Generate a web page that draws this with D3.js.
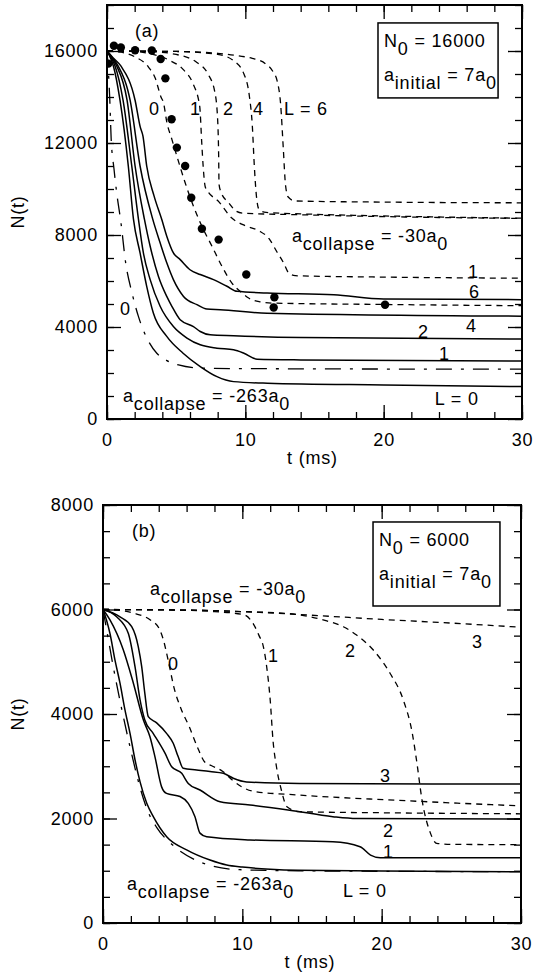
<!DOCTYPE html>
<html>
<head>
<meta charset="utf-8">
<script src="https://cdn.jsdelivr.net/npm/d3@7"></script>
<style>
  body { margin: 0; background: #fff; }
  svg text { font-family: "Liberation Sans", Arial, Helvetica, sans-serif; font-size: 18px; fill: #000; letter-spacing: 0.8px; white-space: pre; }
</style>
</head>
<body>
<svg id="chart" width="545" height="975"></svg>
<script>
// ---- panel (a) data : N0 = 16000, [t (ms), N] ----
var a_solid_L0 = [[0,16000],[0.25,15700],[0.46,15350],[0.94,13860],[1.54,11000],[1.91,8700],[2.39,7220],[2.87,5770],[3.35,4610],[4.32,3590],[5.5,2860],[6.74,2280],[7.95,1840],[9.15,1625],[11.6,1555],[20,1480],[30,1410]]
var a_solid_L1 = [[0,16000],[0.3,15700],[0.58,15350],[1.16,13860],[1.79,11000],[2.27,8700],[2.63,7220],[3.12,6060],[3.84,4900],[4.8,4020],[5.78,3520],[6.74,3225],[7.95,3080],[9.15,3010],[9.9,2860],[10.85,2600],[14,2570],[30,2520]]
var a_solid_L2 = [[0,16000],[0.35,15700],[0.7,15350],[1.45,13860],[2.03,11000],[2.7,8700],[3.12,7510],[3.72,6200],[4.32,5330],[4.69,4900],[5.29,4315],[6.25,4020],[6.74,3805],[7.46,3660],[9.15,3620],[14,3545],[30,3475]]
var a_solid_L4 = [[0,16000],[0.4,15700],[0.8,15350],[1.67,13860],[2.39,11000],[3.3,8700],[3.84,7660],[4.32,6790],[4.8,6060],[5.53,5330],[6.5,4970],[7.22,4780],[8.19,4750],[11.57,4600],[30,4470]]
var a_solid_L6 = [[0,16000],[0.45,15700],[1.0,15350],[2.03,13860],[2.4,12700],[2.6,12300],[2.87,11000],[3.4,9700],[3.96,8670],[4.32,7950],[4.8,7220],[5.29,6930],[6.0,6490],[6.74,6280],[7.7,6060],[8.67,5770],[9.4,5550],[11.57,5480],[16.4,5400],[20,5215],[30,5190]]
var a_dashdot_L0 = [[0,16000],[0.1,15100],[0.2,13900],[0.3,12200],[0.5,10900],[0.7,9840],[1.01,8530],[1.35,6790],[1.8,5500],[2.27,4460],[2.9,3500],[3.6,2860],[4.3,2550],[5.17,2350],[6.86,2210],[10,2190],[30,2165]]
var a_dash_L0 = [[0,16000],[1,15950],[2,15750],[3,15300],[3.5,14800],[3.9,14000],[4.08,13760],[4.33,12890],[4.69,12160],[5.05,11430],[5.65,10270],[6.25,9250],[6.86,8380],[7.59,7510],[8.31,6640],[9.03,5910],[9.76,5480],[10.24,5260],[11,5100],[12,5040],[20,4980],[30,4925]]
var a_dash_L1 = [[0,16000],[2,15980],[3,15900],[4.5,15600],[5.5,15200],[6.2,14600],[6.7,13600],[6.85,12000],[6.95,11000],[7.1,10100],[7.35,9840],[8,9500],[9,8750],[10,8400],[11,8180],[11.7,7850],[12.3,7250],[12.8,6750],[13.1,6380],[13.6,6230],[20,6170],[30,6120]]
var a_dash_L2 = [[0,16000],[3,15980],[5,15850],[6.5,15500],[7.3,15000],[7.8,14200],[8.0,13000],[8.07,11500],[8.1,10200],[8.25,9850],[8.8,9400],[9.3,9050],[9.8,8950],[14,8880],[20,8800],[30,8720]]
var a_dash_L4 = [[0,16000],[5,15980],[8,15850],[9.1,15600],[9.9,15000],[10.3,14000],[10.5,12800],[10.65,11000],[10.8,9700],[11.0,9100],[11.5,8980],[14,8920],[20,8830],[30,8730]]
var a_dash_L6 = [[0,16000],[5,15980],[8,15900],[9.5,15790],[10.5,15680],[11.45,15450],[12,15100],[12.3,14700],[12.55,13700],[12.75,11700],[12.9,10200],[13.1,9650],[13.6,9480],[20,9430],[30,9400]]
var a_exp = [[0.1,15450],[0.5,16230],[1.0,16150],[2.03,16030],[3.24,16020],[3.88,15650],[4.22,14810],[4.67,13030],[5.05,11800],[5.65,11000],[6.09,9620],[6.86,8270],[8.07,7800],[10.07,6280],[12.1,5290],[12.05,4850],[20.1,4970]]

// ---- panel (b) data : N0 = 6000 ----
var b_solid_L0 = [[0,6000],[0.25,5800],[0.5,5540],[0.86,5030],[1.22,4590],[1.58,4075],[1.94,3630],[2.3,3120],[2.66,2700],[3.14,2290],[3.61,2035],[4.57,1650],[6.0,1400],[7.68,1205],[8.88,1110],[10,1070],[12,1030],[14,1010],[20,995],[30,982]]
var b_solid_L1 = [[0,6000],[0.5,5800],[1.46,5225],[2.18,4590],[2.9,3885],[3.37,3565],[3.73,3180],[4.2,2610],[4.56,2480],[5.53,2420],[6.12,2290],[6.6,2035],[6.96,1720],[7.44,1650],[10.55,1590],[16.5,1555],[18.45,1460],[19.2,1300],[19.9,1250],[30,1250]]
var b_solid_L2 = [[0,6000],[0.98,5860],[1.82,5540],[2.3,4900],[2.66,4270],[3.0,3885],[3.6,3630],[4.45,3250],[4.93,2990],[5.65,2865],[6.12,2670],[6.96,2545],[8.4,2320],[10.55,2260],[13.4,2160],[16.5,2035],[18.2,2000],[30,1990]]
var b_solid_L3 = [[0,6000],[1.22,5860],[2.06,5670],[2.53,5290],[2.78,4900],[3.0,4400],[3.25,3950],[3.85,3830],[4.56,3630],[5.04,3440],[5.4,3180],[5.76,2960],[6.72,2930],[7.68,2900],[8.64,2865],[9.35,2770],[10.3,2700],[14.1,2670],[30,2660]]
var b_dashdot_L0 = [[0,6000],[0.27,5600],[0.74,4900],[1.34,4100],[2.0,3300],[2.6,2650],[3.2,2150],[3.85,1830],[5.05,1480],[6.6,1210],[7.7,1100],[9.8,1020],[14,1000],[20,990],[30,982]]
var b_dash_L0 = [[0,6000],[1,5990],[2.2,5930],[3.4,5800],[4.0,5650],[4.3,5450],[4.7,5000],[5.1,4500],[5.6,4100],[6.2,3750],[6.8,3350],[7.3,3080],[7.8,3010],[8.6,2900],[9.3,2730],[10,2600],[10.8,2520],[14,2450],[21,2350],[30,2240]]
var b_dash_L1 = [[0,6000],[5,5990],[8,5960],[10.1,5900],[10.8,5720],[11.2,5500],[11.5,5300],[11.75,4900],[12,4270],[12.2,3500],[12.45,2990],[12.8,2545],[13.2,2225],[14.1,2130],[20,2110],[30,2090]]
var b_dash_L2 = [[0,6000],[5,5995],[10,5960],[13.4,5920],[15.8,5800],[17.25,5670],[18.2,5510],[19.4,5225],[20.6,4780],[21.55,4270],[22.2,3630],[22.5,3120],[22.9,2350],[23.5,1720],[23.95,1525],[25,1505],[30,1500]]
var b_dash_L3 = [[0,6000],[5,5990],[10,5960],[15,5890],[20,5810],[25,5740],[30,5660]]

// axis ticks
var xMinorTicks = d3.range(0, 31, 2)
var xMajorTicks = [0, 10, 20, 30]
var a_yMinorTicks = d3.range(0, 18001, 1000)
var a_yMajorTicks = [0, 4000, 8000, 12000, 16000]
var b_yMinorTicks = d3.range(0, 8001, 500)
var b_yMajorTicks = [0, 2000, 4000, 6000, 8000]

var svg = d3.select('#chart')

// text with subscripts: parts = [[string, isSub], ...]
function subText(g, x, y, parts) {
  var t = g.append('text').attr('x', x).attr('y', y)
  var down = false
  parts.forEach(function (p) {
    var dy = 0
    if (p[1] && !down) { dy = 8; down = true }
    else if (!p[1] && down) { dy = -8; down = false }
    t.append('tspan').attr('dy', dy).text(p[0])
  })
  return t
}

function drawPanel(cfg) {
  var g = svg.append('g')

  var x = d3.scaleLinear().domain([0, 30]).range([cfg.left, cfg.right])
  var y = d3.scaleLinear().domain([0, cfg.ymax]).range([cfg.bottom, cfg.top])

  g.append('clipPath').attr('id', cfg.id + 'clip')
    .append('rect')
    .attr('x', cfg.left).attr('y', cfg.top)
    .attr('width', cfg.right - cfg.left).attr('height', cfg.bottom - cfg.top)

  var line = d3.line()
    .x(function (d) { return x(d[0]) })
    .y(function (d) { return y(d[1]) })
    .curve(d3.curveMonotoneX)

  var curves = g.append('g').attr('clip-path', 'url(#' + cfg.id + 'clip)')

  cfg.dashed.forEach(function (s) {
    curves.append('path').datum(s).attr('d', line)
      .attr('fill', 'none').attr('stroke', '#000').attr('stroke-width', 1.3)
      .attr('stroke-dasharray', '6,5')
  })
  cfg.dashdot.forEach(function (s) {
    curves.append('path').datum(s).attr('d', line)
      .attr('fill', 'none').attr('stroke', '#000').attr('stroke-width', 1.3)
      .attr('stroke-dasharray', '16,9,3,9')
  })
  cfg.solid.forEach(function (s) {
    curves.append('path').datum(s).attr('d', line)
      .attr('fill', 'none').attr('stroke', '#000').attr('stroke-width', 1.5)
  })
  if (cfg.dots) {
    curves.selectAll('circle').data(cfg.dots).enter().append('circle')
      .attr('cx', function (d) { return x(d[0]) })
      .attr('cy', function (d) { return y(d[1]) })
      .attr('r', 4.2).attr('fill', '#000')
  }

  // ticks on all four sides, pointing inward
  function tickStyle(sel) {
    sel.select('.domain').remove()
    sel.selectAll('line').attr('stroke', '#000').attr('stroke-width', 1.3)
    sel.selectAll('text').style('font-size', '18px').attr('font-family', null)
  }
  g.append('g').attr('transform', 'translate(0,' + cfg.bottom + ')')
    .call(d3.axisBottom(x).tickValues(xMinorTicks).tickSize(-7).tickFormat('')).call(tickStyle)
  g.append('g').attr('transform', 'translate(0,' + cfg.bottom + ')')
    .call(d3.axisBottom(x).tickValues(xMajorTicks).tickSize(-14).tickPadding(14).tickFormat(d3.format('d'))).call(tickStyle)
  g.append('g').attr('transform', 'translate(0,' + cfg.top + ')')
    .call(d3.axisTop(x).tickValues(xMinorTicks).tickSize(-7).tickFormat('')).call(tickStyle)
  g.append('g').attr('transform', 'translate(0,' + cfg.top + ')')
    .call(d3.axisTop(x).tickValues(xMajorTicks).tickSize(-14).tickFormat('')).call(tickStyle)

  g.append('g').attr('transform', 'translate(' + cfg.left + ',0)')
    .call(d3.axisLeft(y).tickValues(cfg.yMinor).tickSize(-7).tickFormat('')).call(tickStyle)
  g.append('g').attr('transform', 'translate(' + cfg.left + ',0)')
    .call(d3.axisLeft(y).tickValues(cfg.yMajor).tickSize(-14).tickPadding(9).tickFormat(d3.format('d'))).call(tickStyle)
  g.append('g').attr('transform', 'translate(' + cfg.right + ',0)')
    .call(d3.axisRight(y).tickValues(cfg.yMinor).tickSize(-7).tickFormat('')).call(tickStyle)
  g.append('g').attr('transform', 'translate(' + cfg.right + ',0)')
    .call(d3.axisRight(y).tickValues(cfg.yMajor).tickSize(-14).tickFormat('')).call(tickStyle)

  g.append('rect')
    .attr('x', cfg.left).attr('y', cfg.top)
    .attr('width', cfg.right - cfg.left).attr('height', cfg.bottom - cfg.top)
    .attr('fill', 'none').attr('stroke', '#000').attr('stroke-width', 2)

  // axis titles
  g.append('text')
    .attr('x', (cfg.left + cfg.right) / 2 - 2).attr('y', cfg.bottom + 45)
    .attr('text-anchor', 'middle').text('t (ms)')
  g.append('text')
    .attr('transform', 'translate(' + 24 + ',' + (cfg.top + cfg.bottom) / 2 + ') rotate(-90)')
    .attr('text-anchor', 'middle').text('N(t)')

  // info box
  var b = cfg.box
  g.append('rect')
    .attr('x', x(b.t0)).attr('y', y(b.n0))
    .attr('width', x(b.t1) - x(b.t0)).attr('height', y(b.n1) - y(b.n0))
    .attr('fill', '#fff').attr('stroke', '#000').attr('stroke-width', 1.5)
  subText(g, x(b.t0) + 6, y(b.n0) + 24, [['N', false], ['0', true], [' = ' + cfg.N0, false]])
  subText(g, x(b.t0) + 6, y(b.n0) + 58, [['a', false], ['initial', true], [' = 7a', false], ['0', true]])

  // curve labels
  cfg.labels.forEach(function (l) {
    if (l.parts) subText(g, x(l.t), y(l.n), l.parts)
    else g.append('text').attr('x', x(l.t)).attr('y', y(l.n)).text(l.text)
  })
}

drawPanel({
  id: 'pa', left: 107, right: 522, top: 5, bottom: 419, ymax: 18000,
  yMinor: a_yMinorTicks, yMajor: a_yMajorTicks, N0: 16000,
  solid: [a_solid_L0, a_solid_L1, a_solid_L2, a_solid_L4, a_solid_L6],
  dashed: [a_dash_L0, a_dash_L1, a_dash_L2, a_dash_L4, a_dash_L6],
  dashdot: [a_dashdot_L0],
  dots: a_exp,
  box: { t0: 19.59, t1: 28.27, n0: 17220, n1: 13960 },
  labels: [
    { t: 2.02, n: 16610, text: '(a)' },
    { t: 3.04, n: 13220, text: '0' },
    { t: 6.0, n: 13220, text: '1' },
    { t: 8.39, n: 13220, text: '2' },
    { t: 10.55, n: 13220, text: '4' },
    { t: 12.8, n: 13220, text: 'L = 6' },
    { t: 13.37, n: 7700, parts: [['a', false], ['collapse', true], [' = -30a', false], ['0', true]] },
    { t: 26.1, n: 6130, text: '1' },
    { t: 26.17, n: 5260, text: '6' },
    { t: 25.95, n: 3780, text: '4' },
    { t: 22.48, n: 3520, text: '2' },
    { t: 24.0, n: 2565, text: '1' },
    { t: 23.7, n: 610, text: 'L = 0' },
    { t: 1.16, n: 740, parts: [['a', false], ['collapse', true], [' = -263a', false], ['0', true]] },
    { t: 0.94, n: 4520, text: '0' }
  ]
})

drawPanel({
  id: 'pb', left: 103, right: 521, top: 505, bottom: 923, ymax: 8000,
  yMinor: b_yMinorTicks, yMajor: b_yMajorTicks, N0: 6000,
  solid: [b_solid_L0, b_solid_L1, b_solid_L2, b_solid_L3],
  dashed: [b_dash_L0, b_dash_L1, b_dash_L2, b_dash_L3],
  dashdot: [b_dashdot_L0],
  dots: null,
  box: { t0: 19.38, t1: 28.49, n0: 7675, n1: 6067 },
  labels: [
    { t: 2.08, n: 7390, text: '(b)' },
    { t: 3.37, n: 6280, parts: [['a', false], ['collapse', true], [' = -30a', false], ['0', true]] },
    { t: 4.67, n: 4840, text: '0' },
    { t: 11.84, n: 4995, text: '1' },
    { t: 17.37, n: 5090, text: '2' },
    { t: 26.48, n: 5263, text: '3' },
    { t: 19.88, n: 2700, text: '3' },
    { t: 20.1, n: 1646, text: '2' },
    { t: 20.1, n: 1244, text: '1' },
    { t: 1.72, n: 632, parts: [['a', false], ['collapse', true], [' = -263a', false], ['0', true]] },
    { t: 17.22, n: 498, text: 'L = 0' }
  ]
})
</script>
</body>
</html>
